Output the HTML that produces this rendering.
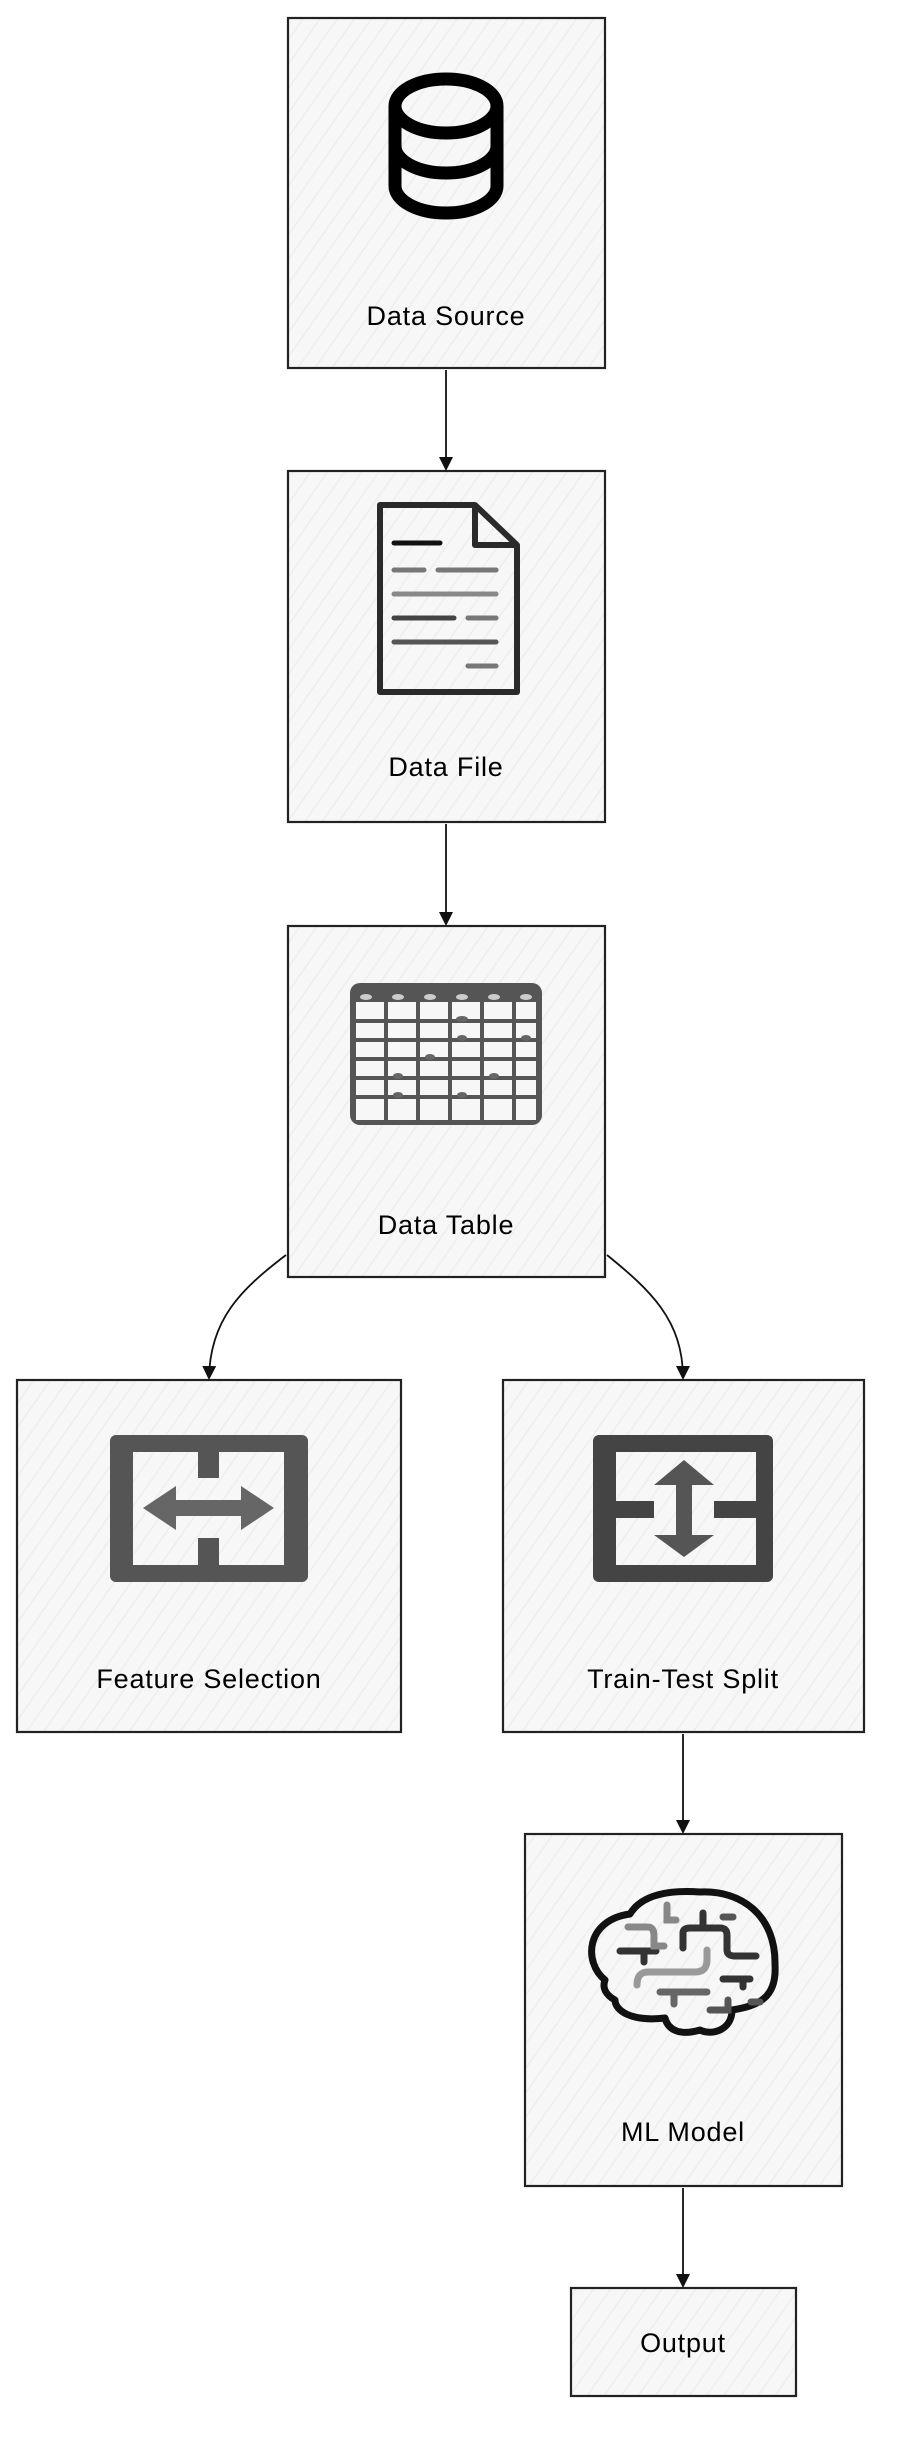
<!DOCTYPE html>
<html><head><meta charset="utf-8"><style>
html,body{margin:0;padding:0;background:#fff;}
svg{display:block;}
text{font-family:"Comic Sans MS","Liberation Sans",sans-serif;font-size:27px;fill:#000;text-anchor:middle;letter-spacing:0.8px;}
</style></head><body>
<svg width="898" height="2456" viewBox="0 0 898 2456" xmlns="http://www.w3.org/2000/svg">
<defs>
<pattern id="h" width="14" height="14" patternUnits="userSpaceOnUse" patternTransform="rotate(-55)">
<rect width="14" height="14" fill="#f7f7f7"/>
<line x1="0" y1="7" x2="14" y2="7" stroke="#ececec" stroke-width="1.2"/>
</pattern>
<marker id="a" markerWidth="14" markerHeight="14" refX="12" refY="7" orient="auto" markerUnits="userSpaceOnUse">
<path d="M0,0 L14,7 L0,14 Z" fill="#111"/>
</marker>
</defs>
<g fill="url(#h)" stroke="#222" stroke-width="2.2">
<rect x="288" y="18" width="317" height="350"/>
<rect x="288" y="471" width="317" height="351"/>
<rect x="288" y="926" width="317" height="351"/>
<rect x="17" y="1380" width="384" height="352"/>
<rect x="503" y="1380" width="361" height="352"/>
<rect x="525" y="1834" width="317" height="352"/>
<rect x="571" y="2288" width="225" height="108"/>
</g>
<g stroke="#111" stroke-width="1.8" fill="none" marker-end="url(#a)">
<path d="M446,370 L446,469"/>
<path d="M446,824 L446,924"/>
<path d="M286,1255 C240,1290 210,1320 209,1378"/>
<path d="M607,1255 C650,1290 683,1320 683,1378"/>
<path d="M683,1734 L683,1832"/>
<path d="M683,2188 L683,2286"/>
</g>
<text x="446" y="325">Data Source</text>
<text x="446" y="776">Data File</text>
<text x="446" y="1234">Data Table</text>
<text x="209" y="1688">Feature Selection</text>
<text x="683" y="1688">Train-Test Split</text>
<text x="683" y="2141">ML Model</text>
<text x="683" y="2352">Output</text>
<!-- database -->
<g fill="none" stroke="#000" stroke-width="13">
<ellipse cx="446" cy="106" rx="51" ry="27"/>
<path d="M395,106 L395,186 A51,27 0 0 0 497,186 L497,106"/>
<path d="M395,146 A51,27 0 0 0 497,146"/>
</g>
<!-- doc -->
<g fill="none" stroke="#2a2a2a">
<path d="M380,505 L475,505 L517,545 L517,692 L380,692 Z" stroke-width="6" stroke-linejoin="round"/>
<path d="M475,505 L475,545 L517,545" stroke-width="6" stroke-linejoin="round"/>
<g stroke-width="5" stroke-linecap="round">
<line x1="394" y1="543" x2="440" y2="543" stroke="#111"/>
<line x1="394" y1="570" x2="424" y2="570" stroke="#777"/>
<line x1="438" y1="570" x2="496" y2="570" stroke="#777"/>
<line x1="394" y1="594" x2="496" y2="594" stroke="#888"/>
<line x1="394" y1="618" x2="454" y2="618" stroke="#444"/>
<line x1="468" y1="618" x2="496" y2="618" stroke="#777"/>
<line x1="394" y1="642" x2="496" y2="642" stroke="#555"/>
<line x1="468" y1="666" x2="496" y2="666" stroke="#777"/>
</g></g>
<!-- table -->
<g>
<rect x="350" y="983" width="192" height="142" rx="10" fill="#555"/>
<rect x="356" y="1002" width="180" height="118" fill="#f7f7f7"/>
<g stroke="#555" stroke-width="4">
<line x1="386" y1="1000" x2="386" y2="1122"/><line x1="418" y1="1000" x2="418" y2="1122"/>
<line x1="450" y1="1000" x2="450" y2="1122"/><line x1="482" y1="1000" x2="482" y2="1122"/>
<line x1="514" y1="1000" x2="514" y2="1122"/>
<line x1="352" y1="1021" x2="540" y2="1021"/><line x1="352" y1="1040" x2="540" y2="1040"/>
<line x1="352" y1="1059" x2="540" y2="1059"/><line x1="352" y1="1078" x2="540" y2="1078"/>
<line x1="352" y1="1097" x2="540" y2="1097"/>
</g>
<g fill="#ccc"><ellipse cx="366" cy="997" rx="6" ry="3"/><ellipse cx="398" cy="997" rx="6" ry="3"/><ellipse cx="430" cy="997" rx="6" ry="3"/><ellipse cx="462" cy="997" rx="6" ry="3"/><ellipse cx="494" cy="997" rx="6" ry="3"/><ellipse cx="526" cy="997" rx="6" ry="3"/></g>
<g fill="#666"><ellipse cx="462" cy="1019" rx="6" ry="3"/><ellipse cx="462" cy="1038" rx="5" ry="3"/><ellipse cx="526" cy="1038" rx="5" ry="3"/><ellipse cx="430" cy="1057" rx="5" ry="3"/><ellipse cx="398" cy="1076" rx="5" ry="3"/><ellipse cx="494" cy="1076" rx="5" ry="3"/><ellipse cx="398" cy="1095" rx="5" ry="3"/><ellipse cx="462" cy="1095" rx="5" ry="3"/></g>
</g>
<!-- feature selection icon -->
<g>
<path fill="#555" fill-rule="evenodd" d="M116,1435 h186 a6,6 0 0 1 6,6 v135 a6,6 0 0 1 -6,6 h-186 a6,6 0 0 1 -6,-6 v-135 a6,6 0 0 1 6,-6 Z M133,1452 v113 h65 v-27 h21 v27 h65 v-113 h-65 v26 h-21 v-26 Z"/>
<path fill="#666" d="M143,1508 L176,1486 L176,1500 L241,1500 L241,1486 L274,1508 L241,1530 L241,1516 L176,1516 L176,1530 Z"/>
</g>
<!-- train-test icon -->
<g>
<path fill="#444" fill-rule="evenodd" d="M599,1435 h168 a6,6 0 0 1 6,6 v135 a6,6 0 0 1 -6,6 h-168 a6,6 0 0 1 -6,-6 v-135 a6,6 0 0 1 6,-6 Z M616,1452 v49 h38 v17 h-38 v47 h140 v-47 h-42 v-17 h42 v-49 Z"/>
<path fill="#555" d="M684,1460 L714,1485 L692,1485 L692,1535 L714,1535 L684,1557 L654,1535 L676,1535 L676,1485 L654,1485 Z"/>
</g>
<!-- brain -->
<g transform="translate(570,1870)">
<path d="M35,110 C13,92 16,50 60,44 C72,24 100,20 130,22 C172,20 206,46 205,95 C207,128 188,136 162,140 C162,160 142,166 130,160 C110,166 98,160 95,148 C60,152 45,140 45,130 C36,125 32,118 35,110 Z" fill="none" stroke="#111" stroke-width="7" stroke-linejoin="round"/>
<g fill="none" stroke-width="7" stroke-linecap="round">
<path d="M58,81 H86 M50,81 H62 M74,81 V92" stroke="#333"/>
<path d="M58,57 H78 Q84,57 84,66 V76 H94" stroke="#888"/>
<path d="M97,35 V50 H106" stroke="#888"/>
<path d="M133,43 V55 M113,78 V63 Q113,58 120,58 H150 Q157,58 157,65 V80 Q157,86 165,86 H186" stroke="#333"/>
<path d="M153,47 H163" stroke="#555"/>
<path d="M137,80 V90 Q137,102 125,102 H78 Q67,102 67,115" stroke="#999"/>
<path d="M90,122 H137 M104,122 V134" stroke="#666"/>
<path d="M153,109 H180 M173,109 V117" stroke="#333"/>
<path d="M140,140 H158 V130" stroke="#555"/>
<path d="M181,132 H190" stroke="#555"/>
</g>
</g>
</svg>
</body></html>
